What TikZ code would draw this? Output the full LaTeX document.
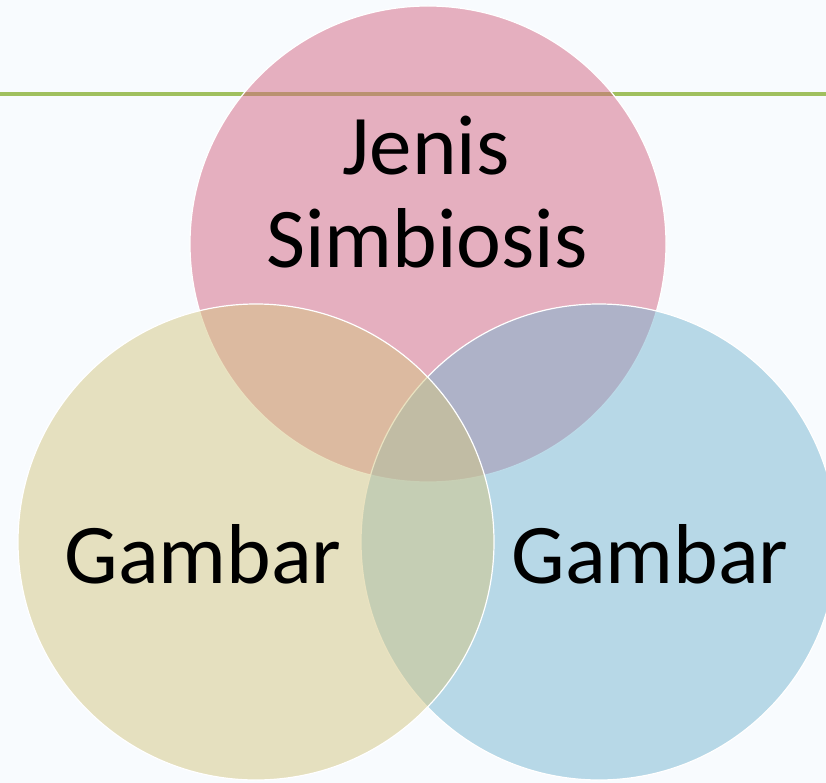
\documentclass[tikz,border=0pt]{standalone}
\usepackage{fontspec}
\setmainfont{Carlito}
\definecolor{bg}{RGB}{248,251,254}
\definecolor{linegreen}{RGB}{160,192,95}
\definecolor{cpink}{RGB}{212,100,130}
\definecolor{cyel}{RGB}{212,198,130}
\definecolor{cblue}{RGB}{120,182,210}
\tikzset{
  venn/.style={draw=white, line width=1.2pt, fill opacity=0.5},
  lbl/.style={anchor=base, inner sep=0pt, font=\fontsize{85}{93}\selectfont, text=black},
}
\begin{document}
\begin{tikzpicture}[x=1pt,y=-1pt]
\fill[bg] (0,0) rectangle (826,783);
\useasboundingbox (0,0) rectangle (826,783);
\coordinate (ls) at (0,94);
\coordinate (le) at (826,94);
\draw[linegreen, line width=4pt] (ls) -- (le);
\path[venn, fill=cpink] (428,244) circle (238);
\path[venn, fill=cblue] (599,542) circle (238);
\path[venn, fill=cyel] (256,542) circle (238);
\node[lbl] (j1) at (426,175) {Jenis};
\node[lbl] (j2) at (427,268) {Simbiosis};
\node[lbl] (g1) at (203,583) {Gambar};
\node[lbl] (g2) at (650,583) {Gambar};
\end{tikzpicture}
\end{document}
